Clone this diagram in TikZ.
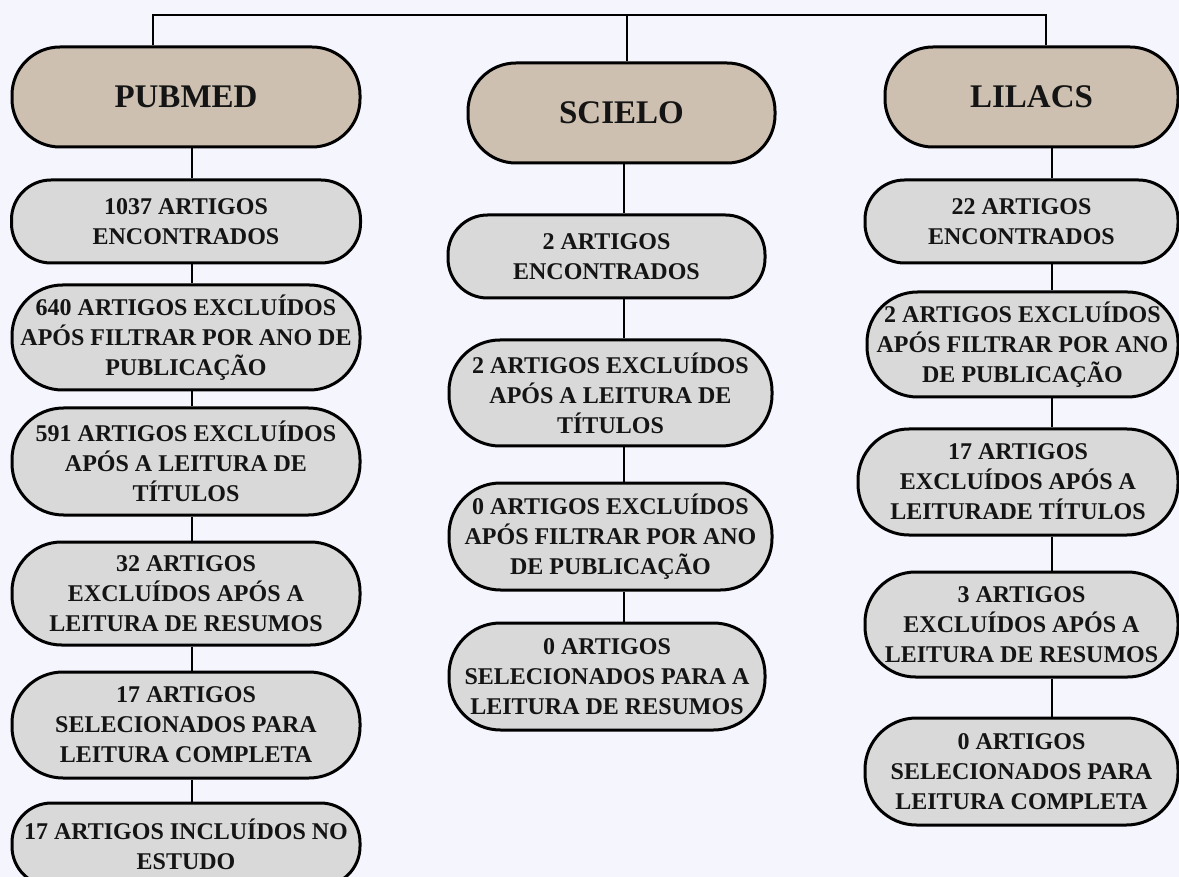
\documentclass[tikz,border=0pt]{standalone}
\usepackage{fontspec}
\setmainfont{Liberation Serif}
\usepackage{tikz}
\usetikzlibrary{positioning,calc}
\definecolor{bgpage}{RGB}{245,245,254}
\definecolor{srctan}{RGB}{205,192,177}
\definecolor{stepgray}{RGB}{217,217,217}

\begin{document}
\begin{tikzpicture}[
	x=1pt,
	y=-1pt,
	source/.style={draw=black,fill=srctan,line width=3pt,minimum width=#1,minimum height=100pt,
		rounded corners=48pt,inner sep=0pt,font=\fontsize{33}{38}\selectfont\bfseries,text=black!92},
	stepbox/.style 2 args={draw=black,fill=stepgray,line width=3pt,minimum width=#1,minimum height=#2,
		rounded corners=0.5*#2-2pt,inner sep=0pt,align=center,font=\fontsize{24}{30}\selectfont\bfseries,text=black!92},
	link/.style={draw=black,line width=2.8pt}
	]
	\fill[bgpage] (0,0) rectangle (1179,877);
	\useasboundingbox (0,0) rectangle (1179,877);
	
	% Sources
	\node[source=348pt] (pubmed) at (186,97) {PUBMED};
	\node[source=307pt] (scielo) at (621.5,113) {SCIELO};
	\node[source=293pt] (lilacs) at (1031.5,97) {LILACS};
	
	% PUBMED column
	\node[stepbox={349pt}{83pt}] (pub1) at (186,221.5) {1037 ARTIGOS\\ENCONTRADOS};
	\node[stepbox={348pt}{105pt}] (pub2) at (186,337.5) {640 ARTIGOS EXCLUÍDOS\\APÓS FILTRAR POR ANO DE\\PUBLICAÇÃO};
	\node[stepbox={348pt}{107pt}] (pub3) at (186,461.5) {591 ARTIGOS EXCLUÍDOS\\APÓS A LEITURA DE\\TÍTULOS};
	\node[stepbox={348pt}{103pt}] (pub4) at (186,593.5) {32 ARTIGOS\\EXCLUÍDOS APÓS A\\LEITURA DE RESUMOS};
	\node[stepbox={348pt}{106pt}] (pub5) at (186,725) {17 ARTIGOS\\SELECIONADOS PARA\\LEITURA COMPLETA};
	\node[stepbox={348pt}{83pt}] (pub6) at (186,844.5) {17 ARTIGOS INCLUÍDOS NO\\ESTUDO};
	
	% SCIELO column
	\node[stepbox={317pt}{83pt}] (sci1) at (606.5,256.5) {2 ARTIGOS\\ENCONTRADOS};
	\node[stepbox={323pt}{106pt}] (sci2) at (610.5,393) {2 ARTIGOS EXCLUÍDOS\\APÓS A LEITURA DE\\TÍTULOS};
	\node[stepbox={323pt}{107pt}] (sci3) at (610.5,536.5) {0 ARTIGOS EXCLUÍDOS\\APÓS FILTRAR POR ANO\\DE PUBLICAÇÃO};
	\node[stepbox={316pt}{107pt}] (sci4) at (607,676.5) {0 ARTIGOS\\SELECIONADOS PARA A\\LEITURA DE RESUMOS};
	
	% LILACS column
	\node[stepbox={313pt}{83pt}] (lil1) at (1021.5,221.5) {22 ARTIGOS\\ENCONTRADOS};
	\node[stepbox={311pt}{105pt}] (lil2) at (1022.5,344.5) {2 ARTIGOS EXCLUÍDOS\\APÓS FILTRAR POR ANO\\DE PUBLICAÇÃO};
	\node[stepbox={320pt}{106pt}] (lil3) at (1018,482) {17 ARTIGOS\\EXCLUÍDOS APÓS A\\LEITURADE TÍTULOS};
	\node[stepbox={313pt}{105pt}] (lil4) at (1021.5,624.5) {3 ARTIGOS\\EXCLUÍDOS APÓS A\\LEITURA DE RESUMOS};
	\node[stepbox={313pt}{107pt}] (lil5) at (1021.5,771.5) {0 ARTIGOS\\SELECIONADOS PARA\\LEITURA COMPLETA};
	
	% Top bar
	\coordinate (busL) at (153,15);
	\coordinate (busM) at (627,15);
	\coordinate (busR) at (1046,15);
	\draw[link] (busL |- pubmed.north) -- (busL) -- (busR) -- (busR |- lilacs.north);
	\draw[link] (busM) -- (busM |- scielo.north);
	
	% Column links
	\coordinate (axisL) at (192,0);
	\coordinate (axisM) at (624,0);
	\coordinate (axisR) at (1052,0);
	\foreach \a/\b in {pubmed/pub1,pub1/pub2,pub2/pub3,pub3/pub4,pub4/pub5,pub5/pub6} {
		\draw[link] (\a.south -| axisL) -- (\b.north -| axisL);
	}
	\foreach \a/\b in {scielo/sci1,sci1/sci2,sci2/sci3,sci3/sci4} {
		\draw[link] (\a.south -| axisM) -- (\b.north -| axisM);
	}
	\foreach \a/\b in {lilacs/lil1,lil1/lil2,lil2/lil3,lil3/lil4,lil4/lil5} {
		\draw[link] (\a.south -| axisR) -- (\b.north -| axisR);
	}
\end{tikzpicture}
\end{document}
